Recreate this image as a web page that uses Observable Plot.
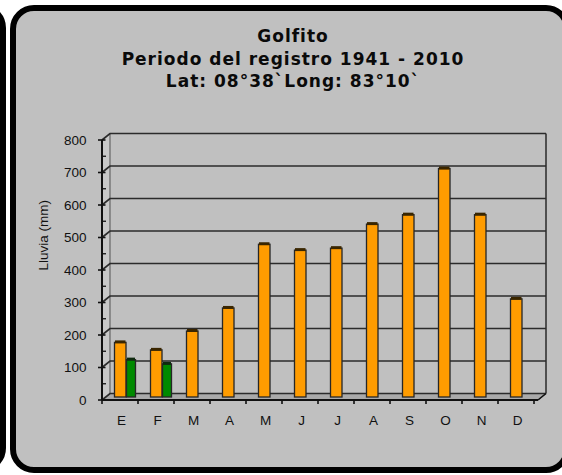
<!DOCTYPE html>
<html>
<head>
<meta charset="utf-8">
<script src="https://cdn.jsdelivr.net/npm/d3@7"></script>
<script src="https://cdn.jsdelivr.net/npm/@observablehq/plot@0.6"></script>
<style>
  html, body { margin: 0; padding: 0; background: #ffffff; }
  body { position: relative; width: 562px; height: 475px; overflow: hidden; }
  .panel { position: absolute; box-sizing: border-box; border: 6px solid #000; border-radius: 24px; background: #c0c0c0; }
  #leftPanel { left: -520px; top: 4px; width: 526px; height: 468px; }
  #mainPanel { left: 10px; top: 5px; width: 560px; height: 468px; }
  #title { position: absolute; left: 10px; width: 566px; top: 25px; text-align: center;
           font-family: "DejaVu Sans", Verdana, sans-serif; font-weight: bold; font-size: 17px;
           letter-spacing: 1px; line-height: 22.7px; color: #0a0a0a; }
  #chart { position: absolute; left: 0; top: 0; }
  #chart svg { font-family: "Liberation Sans", Arial, sans-serif !important; font-size: 13.5px !important; }
  #chart svg text { font-family: "Liberation Sans", Arial, sans-serif !important; font-size: 13.5px !important; fill: #111; }
</style>
</head>
<body>
<div class="panel" id="leftPanel"></div>
<div class="panel" id="mainPanel"></div>
<div id="title">Golfito<br>Periodo del registro 1941 - 2010<br>Lat: 08°38`Long: 83°10`</div>
<div id="chart"></div>
<script>
const meses = ["E","F","M","A","M","J","J","A","S","O","N","D"];
const lluviaPromedio = [168,145,203,274,470,452,458,532,561,703,561,302];
const lluviaSerie2 = [115,102,null,null,null,null,null,null,null,null,null,null];
const yTicks = [0,100,200,300,400,500,600,700,800];
const yMinor = [50,150,250,350,450,550,650,750];
const yLabel = "Lluvia (mm)";

const rows = meses.map((m, i) => ({i, mes: m, a: lluviaPromedio[i], b: lluviaSerie2[i]}));
const rowsB = rows.filter(d => d.b != null);

const DX = 8, DY = -6.5;

function walls(index, scales, values, dims) {
  const {x, y} = scales;
  const L = dims.marginLeft, R = dims.width - dims.marginRight;
  const g = d3.create("svg:g");
  const y0 = y(0);
  g.append("polygon")
    .attr("points", `${L},${y0} ${R},${y0} ${R+DX},${y0+DY} ${L+DX},${y0+DY}`)
    .attr("fill", "#a9a9a9").attr("stroke", "#555").attr("stroke-width", 1);
  g.append("polygon")
    .attr("points", `${L},${y(800)} ${L+DX},${y(800)+DY} ${L+DX},${y0+DY} ${L},${y0}`)
    .attr("fill", "#c8c8c8").attr("stroke", "none");
  g.append("line").attr("x1", L+DX).attr("x2", L+DX).attr("y1", y(800)+DY).attr("y2", y0+DY)
    .attr("stroke", "#8a8a8a").attr("stroke-width", 2);
  g.append("line").attr("x1", R+DX).attr("x2", R+DX).attr("y1", y(800)+DY).attr("y2", y0+DY)
    .attr("stroke", "#333").attr("stroke-width", 1.6);
  for (const t of yTicks) {
    g.append("path")
      .attr("d", `M${L},${y(t)}L${L+DX},${y(t)+DY}L${R+DX},${y(t)+DY}`)
      .attr("fill", "none").attr("stroke", "#2b2b2b").attr("stroke-width", 1.7);
  }
  return g.node();
}

function frontAxes(index, scales, values, dims) {
  const {x, y} = scales;
  const L = dims.marginLeft, R = dims.width - dims.marginRight;
  const bw = x.bandwidth();
  const g = d3.create("svg:g").attr("stroke", "#111");
  const y0 = y(0);
  g.append("line").attr("x1", L).attr("x2", L).attr("y1", y(800)).attr("y2", y0).attr("stroke-width", 2);
  g.append("line").attr("x1", L).attr("x2", R).attr("y1", y0).attr("y2", y0).attr("stroke-width", 2);
  g.append("line").attr("x1", R).attr("x2", R+DX).attr("y1", y0).attr("y2", y0+DY).attr("stroke-width", 1.6);
  for (const t of yTicks) {
    g.append("line").attr("x1", L-4).attr("x2", L+3.5).attr("y1", y(t)).attr("y2", y(t)).attr("stroke-width", 1.6);
  }
  for (const t of yMinor) {
    g.append("line").attr("x1", L).attr("x2", L+4).attr("y1", y(t)).attr("y2", y(t)).attr("stroke-width", 1.3);
  }
  for (let k = 0; k <= meses.length; k++) {
    const xx = L + k * bw;
    g.append("line").attr("x1", xx).attr("x2", xx).attr("y1", y0).attr("y2", y0+4).attr("stroke-width", 1.6);
  }
  return g.node();
}

const chart = Plot.plot({
  width: 562,
  height: 475,
  marginLeft: 102,
  marginRight: 24,
  marginTop: 140,
  marginBottom: 75,
  style: {background: "transparent"},
  x: {type: "band", domain: d3.range(meses.length), padding: 0},
  y: {domain: [0, 800]},
  marks: [
    walls,
    Plot.barY(rows, {x: "i", y: "a", fill: "#ff9c00", stroke: "#262626", strokeWidth: 1.3, insetLeft: 10.5, insetRight: 14, dy: -3}),
    Plot.barY(rowsB, {x: "i", y: "b", fill: "#008a00", stroke: "#262626", strokeWidth: 1.3, insetLeft: 22.5, insetRight: 4.5, dy: -3}),
    Plot.tickY(rows, {x: "i", y: "a", stroke: "#3a2600", strokeWidth: 3, insetLeft: 11, insetRight: 14.5, dy: -4}),
    Plot.tickY(rowsB, {x: "i", y: "b", stroke: "#0f2a0f", strokeWidth: 3, insetLeft: 23, insetRight: 5, dy: -4}),
    frontAxes,
    Plot.axisY({ticks: yTicks, tickSize: 0, tickPadding: 16, label: null}),
    Plot.axisX({tickSize: 0, tickPadding: 15, label: null, dx: -1, tickFormat: i => meses[i]}),
    Plot.text([yLabel], {frameAnchor: "left", rotate: -90, dx: -59})
  ]
});
document.getElementById("chart").appendChild(chart);
</script>
</body>
</html>
